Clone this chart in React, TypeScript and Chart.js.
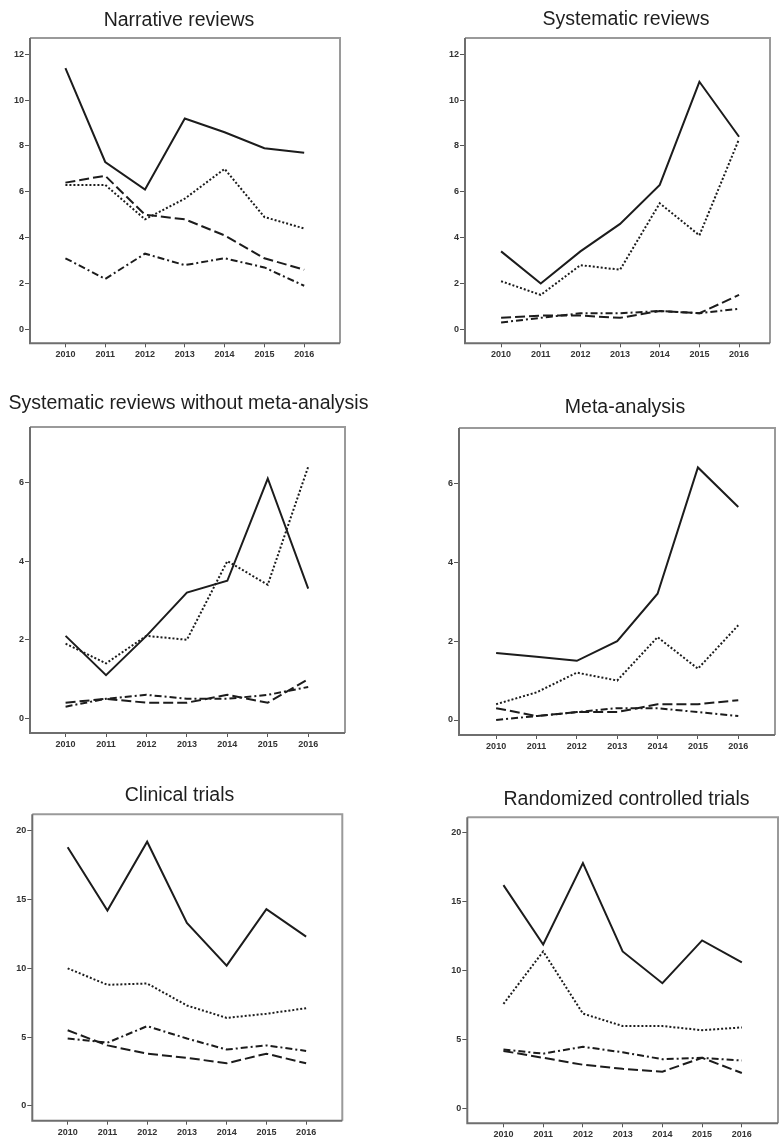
import React, { useEffect, useRef } from "react";
import { Chart, registerables } from "chart.js";

Chart.register(...registerables);

// ---------- DATA ----------
const years = [2010, 2011, 2012, 2013, 2014, 2015, 2016];

const titles = [
  "Narrative reviews",
  "Systematic reviews",
  "Systematic reviews without meta-analysis",
  "Meta-analysis",
  "Clinical trials",
  "Randomized controlled trials",
];

// solid / dotted / dashed / dash-dot series, per panel
const narrativeSolid = [11.4, 7.3, 6.1, 9.2, 8.6, 7.9, 7.7];
const narrativeDotted = [6.3, 6.3, 4.8, 5.7, 7.0, 4.9, 4.4];
const narrativeDashed = [6.4, 6.7, 5.0, 4.8, 4.1, 3.1, 2.6];
const narrativeDashDot = [3.1, 2.2, 3.3, 2.8, 3.1, 2.7, 1.9];

const systematicSolid = [3.4, 2.0, 3.4, 4.6, 6.3, 10.8, 8.4];
const systematicDotted = [2.1, 1.5, 2.8, 2.6, 5.5, 4.1, 8.3];
const systematicDashed = [0.5, 0.6, 0.6, 0.5, 0.8, 0.7, 1.5];
const systematicDashDot = [0.3, 0.5, 0.7, 0.7, 0.8, 0.7, 0.9];

const srNoMaSolid = [2.1, 1.1, 2.1, 3.2, 3.5, 6.1, 3.3];
const srNoMaDotted = [1.9, 1.4, 2.1, 2.0, 4.0, 3.4, 6.4];
const srNoMaDashed = [0.4, 0.5, 0.4, 0.4, 0.6, 0.4, 1.0];
const srNoMaDashDot = [0.3, 0.5, 0.6, 0.5, 0.5, 0.6, 0.8];

const metaSolid = [1.7, 1.6, 1.5, 2.0, 3.2, 6.4, 5.4];
const metaDotted = [0.4, 0.7, 1.2, 1.0, 2.1, 1.3, 2.4];
const metaDashed = [0.3, 0.1, 0.2, 0.2, 0.4, 0.4, 0.5];
const metaDashDot = [0.0, 0.1, 0.2, 0.3, 0.3, 0.2, 0.1];

const clinicalSolid = [18.8, 14.2, 19.2, 13.3, 10.2, 14.3, 12.3];
const clinicalDotted = [10.0, 8.8, 8.9, 7.3, 6.4, 6.7, 7.1];
const clinicalDashed = [5.5, 4.4, 3.8, 3.5, 3.1, 3.8, 3.1];
const clinicalDashDot = [4.9, 4.6, 5.8, 4.9, 4.1, 4.4, 4.0];

const rctSolid = [16.2, 11.9, 17.8, 11.4, 9.1, 12.2, 10.6];
const rctDotted = [7.6, 11.4, 6.9, 6.0, 6.0, 5.7, 5.9];
const rctDashed = [4.2, 3.7, 3.2, 2.9, 2.7, 3.7, 2.6];
const rctDashDot = [4.3, 4.0, 4.5, 4.1, 3.6, 3.7, 3.5];

const yTicksTop = [0, 2, 4, 6, 8, 10, 12];
const yTicksMid = [0, 2, 4, 6];
const yTicksBottom = [0, 5, 10, 15, 20];

const panelSeries = [
  [narrativeSolid, narrativeDotted, narrativeDashed, narrativeDashDot],
  [systematicSolid, systematicDotted, systematicDashed, systematicDashDot],
  [srNoMaSolid, srNoMaDotted, srNoMaDashed, srNoMaDashDot],
  [metaSolid, metaDotted, metaDashed, metaDashDot],
  [clinicalSolid, clinicalDotted, clinicalDashed, clinicalDashDot],
  [rctSolid, rctDotted, rctDashed, rctDashDot],
];
const panelYTicks = [yTicksTop, yTicksTop, yTicksMid, yTicksMid, yTicksBottom, yTicksBottom];
const panelYRange = [
  [-0.61, 12.71],
  [-0.61, 12.71],
  [-0.37, 7.41],
  [-0.38, 7.4],
  [-1.07, 21.19],
  [-1.04, 21.11],
];
const panelXRange = [
  [2009.11, 2016.9],
  [2009.09, 2016.78],
  [2009.12, 2016.91],
  [2009.08, 2016.91],
  [2009.11, 2016.91],
  [2009.09, 2016.91],
];

// ---------- LAYOUT (page pixels) ----------
// L,T,R,B: plot box; cx: title centre; mid: title middle; cl/ct: canvas origin
const layouts = [
  { L: 30, T: 38, R: 340, B: 343.3, cx: 179.2, mid: 20.7, cl: 0, ct: 5 },
  { L: 465, T: 38, R: 770, B: 343.3, cx: 626, mid: 19.5, cl: 435, ct: 4 },
  { L: 30, T: 427, R: 345, B: 733, cx: 188.3, mid: 403.3, cl: 0, ct: 388 },
  { L: 459, T: 428, R: 775, B: 735, cx: 625, mid: 407.3, cl: 429, ct: 392 },
  { L: 32.3, T: 814.3, R: 342.3, B: 1120.7, cx: 179.7, mid: 795.7, cl: 2, ct: 780 },
  { L: 467.3, T: 817.3, R: 778, B: 1123.3, cx: 626.3, mid: 799.7, cl: 437, ct: 784 },
];

const lineStyles = [
  { dash: [] as number[], width: 2 },
  { dash: [2, 2], width: 2 },
  { dash: [10, 4], width: 2 },
  { dash: [7, 3, 2, 3], width: 2 },
];

const TITLE_SIZE = 19.5;
const TITLE_LH = 1.2;
const FONT_FAMILY = "Arial, 'Liberation Sans', Helvetica, sans-serif";

const framePlugin = {
  id: "frame",
  afterDatasetsDraw(chart: any) {
    const { ctx, chartArea } = chart;
    const { left, top, right, bottom } = chartArea;
    ctx.save();
    ctx.lineWidth = 2;
    ctx.strokeStyle = "#9a9a9a";
    ctx.beginPath();
    ctx.moveTo(left, top);
    ctx.lineTo(right, top);
    ctx.lineTo(right, bottom);
    ctx.stroke();
    ctx.strokeStyle = "#6e6e6e";
    ctx.beginPath();
    ctx.moveTo(left, top);
    ctx.lineTo(left, bottom);
    ctx.lineTo(right, bottom);
    ctx.stroke();
    ctx.restore();
  },
};

function Panel({ index }: { index: number }) {
  const ref = useRef<HTMLCanvasElement | null>(null);
  const lay = layouts[index];
  const width = Math.round(2 * (lay.cx - lay.cl));
  const height = Math.ceil(lay.B - lay.ct + 22);
  const yW = lay.L - lay.cl;
  const rightW = width - (lay.R - lay.cl);
  const xH = height - (lay.B - lay.ct);
  const lh = TITLE_SIZE * TITLE_LH;
  const padTop = lay.mid - lay.ct - lh / 2;
  const padBottom = lay.T - lay.ct - padTop - lh;

  useEffect(() => {
    if (!ref.current) return;
    const series = panelSeries[index];
    const yTicks = panelYTicks[index];
    const chart = new Chart(ref.current, {
      type: "line",
      data: {
        datasets: series.map((arr, k) => ({
          data: years.map((x, i) => ({ x, y: arr[i] })),
          borderColor: "#1c1c1c",
          borderWidth: lineStyles[k].width,
          borderDash: lineStyles[k].dash,
          pointRadius: 0,
          fill: false,
          tension: 0,
          yAxisID: "y",
          xAxisID: "x",
        })),
      },
      options: {
        animation: false,
        responsive: false,
        events: [],
        layout: { padding: 0 },
        plugins: {
          legend: { display: false },
          tooltip: { enabled: false },
          title: {
            display: true,
            text: titles[index],
            color: "#1e1e1e",
            font: { family: FONT_FAMILY, size: TITLE_SIZE, weight: "normal", lineHeight: TITLE_LH },
            padding: { top: padTop, bottom: padBottom },
          },
        },
        scales: {
          x: {
            type: "linear",
            position: "bottom",
            min: panelXRange[index][0],
            max: panelXRange[index][1],
            afterBuildTicks: (s: any) => {
              s.ticks = years.map((v) => ({ value: v }));
            },
            afterFit: (s: any) => {
              s.height = xH;
            },
            grid: {
              display: true,
              drawOnChartArea: false,
              drawTicks: true,
              tickLength: 4,
              color: "#555",
              lineWidth: 1,
            },
            border: { display: false },
            ticks: {
              autoSkip: false,
              maxRotation: 0,
              padding: 2,
              color: "#333",
              font: { family: FONT_FAMILY, size: 9, weight: "bold" },
              callback: (v: any) => String(v),
            },
          },
          y: {
            type: "linear",
            position: "left",
            min: panelYRange[index][0],
            max: panelYRange[index][1],
            afterBuildTicks: (s: any) => {
              s.ticks = yTicks.map((v) => ({ value: v }));
            },
            afterFit: (s: any) => {
              s.width = yW;
            },
            grid: {
              display: true,
              drawOnChartArea: false,
              drawTicks: true,
              tickLength: 5,
              color: "#555",
              lineWidth: 1,
            },
            border: { display: false },
            ticks: {
              padding: 1,
              color: "#333",
              font: { family: FONT_FAMILY, size: 9, weight: "bold" },
              callback: (v: any) => String(v),
            },
          },
          pad: {
            type: "linear",
            position: "right",
            display: true,
            grid: { display: false, drawTicks: false },
            border: { display: false },
            ticks: { display: false },
            afterFit: (s: any) => {
              s.width = rightW;
            },
          },
        },
      } as any,
      plugins: [framePlugin],
    });
    return () => chart.destroy();
  }, [index]);

  return (
    <canvas
      ref={ref}
      width={width}
      height={height}
      style={{
        position: "absolute",
        left: lay.cl,
        top: lay.ct,
        width,
        height,
      }}
    />
  );
}

export default function App() {
  return (
    <div
      style={{
        position: "absolute",
        left: 0,
        top: 0,
        width: 779,
        height: 1146,
        overflow: "hidden",
        background: "#ffffff",
      }}
    >
      {titles.map((_, i) => (
        <Panel key={i} index={i} />
      ))}
    </div>
  );
}
